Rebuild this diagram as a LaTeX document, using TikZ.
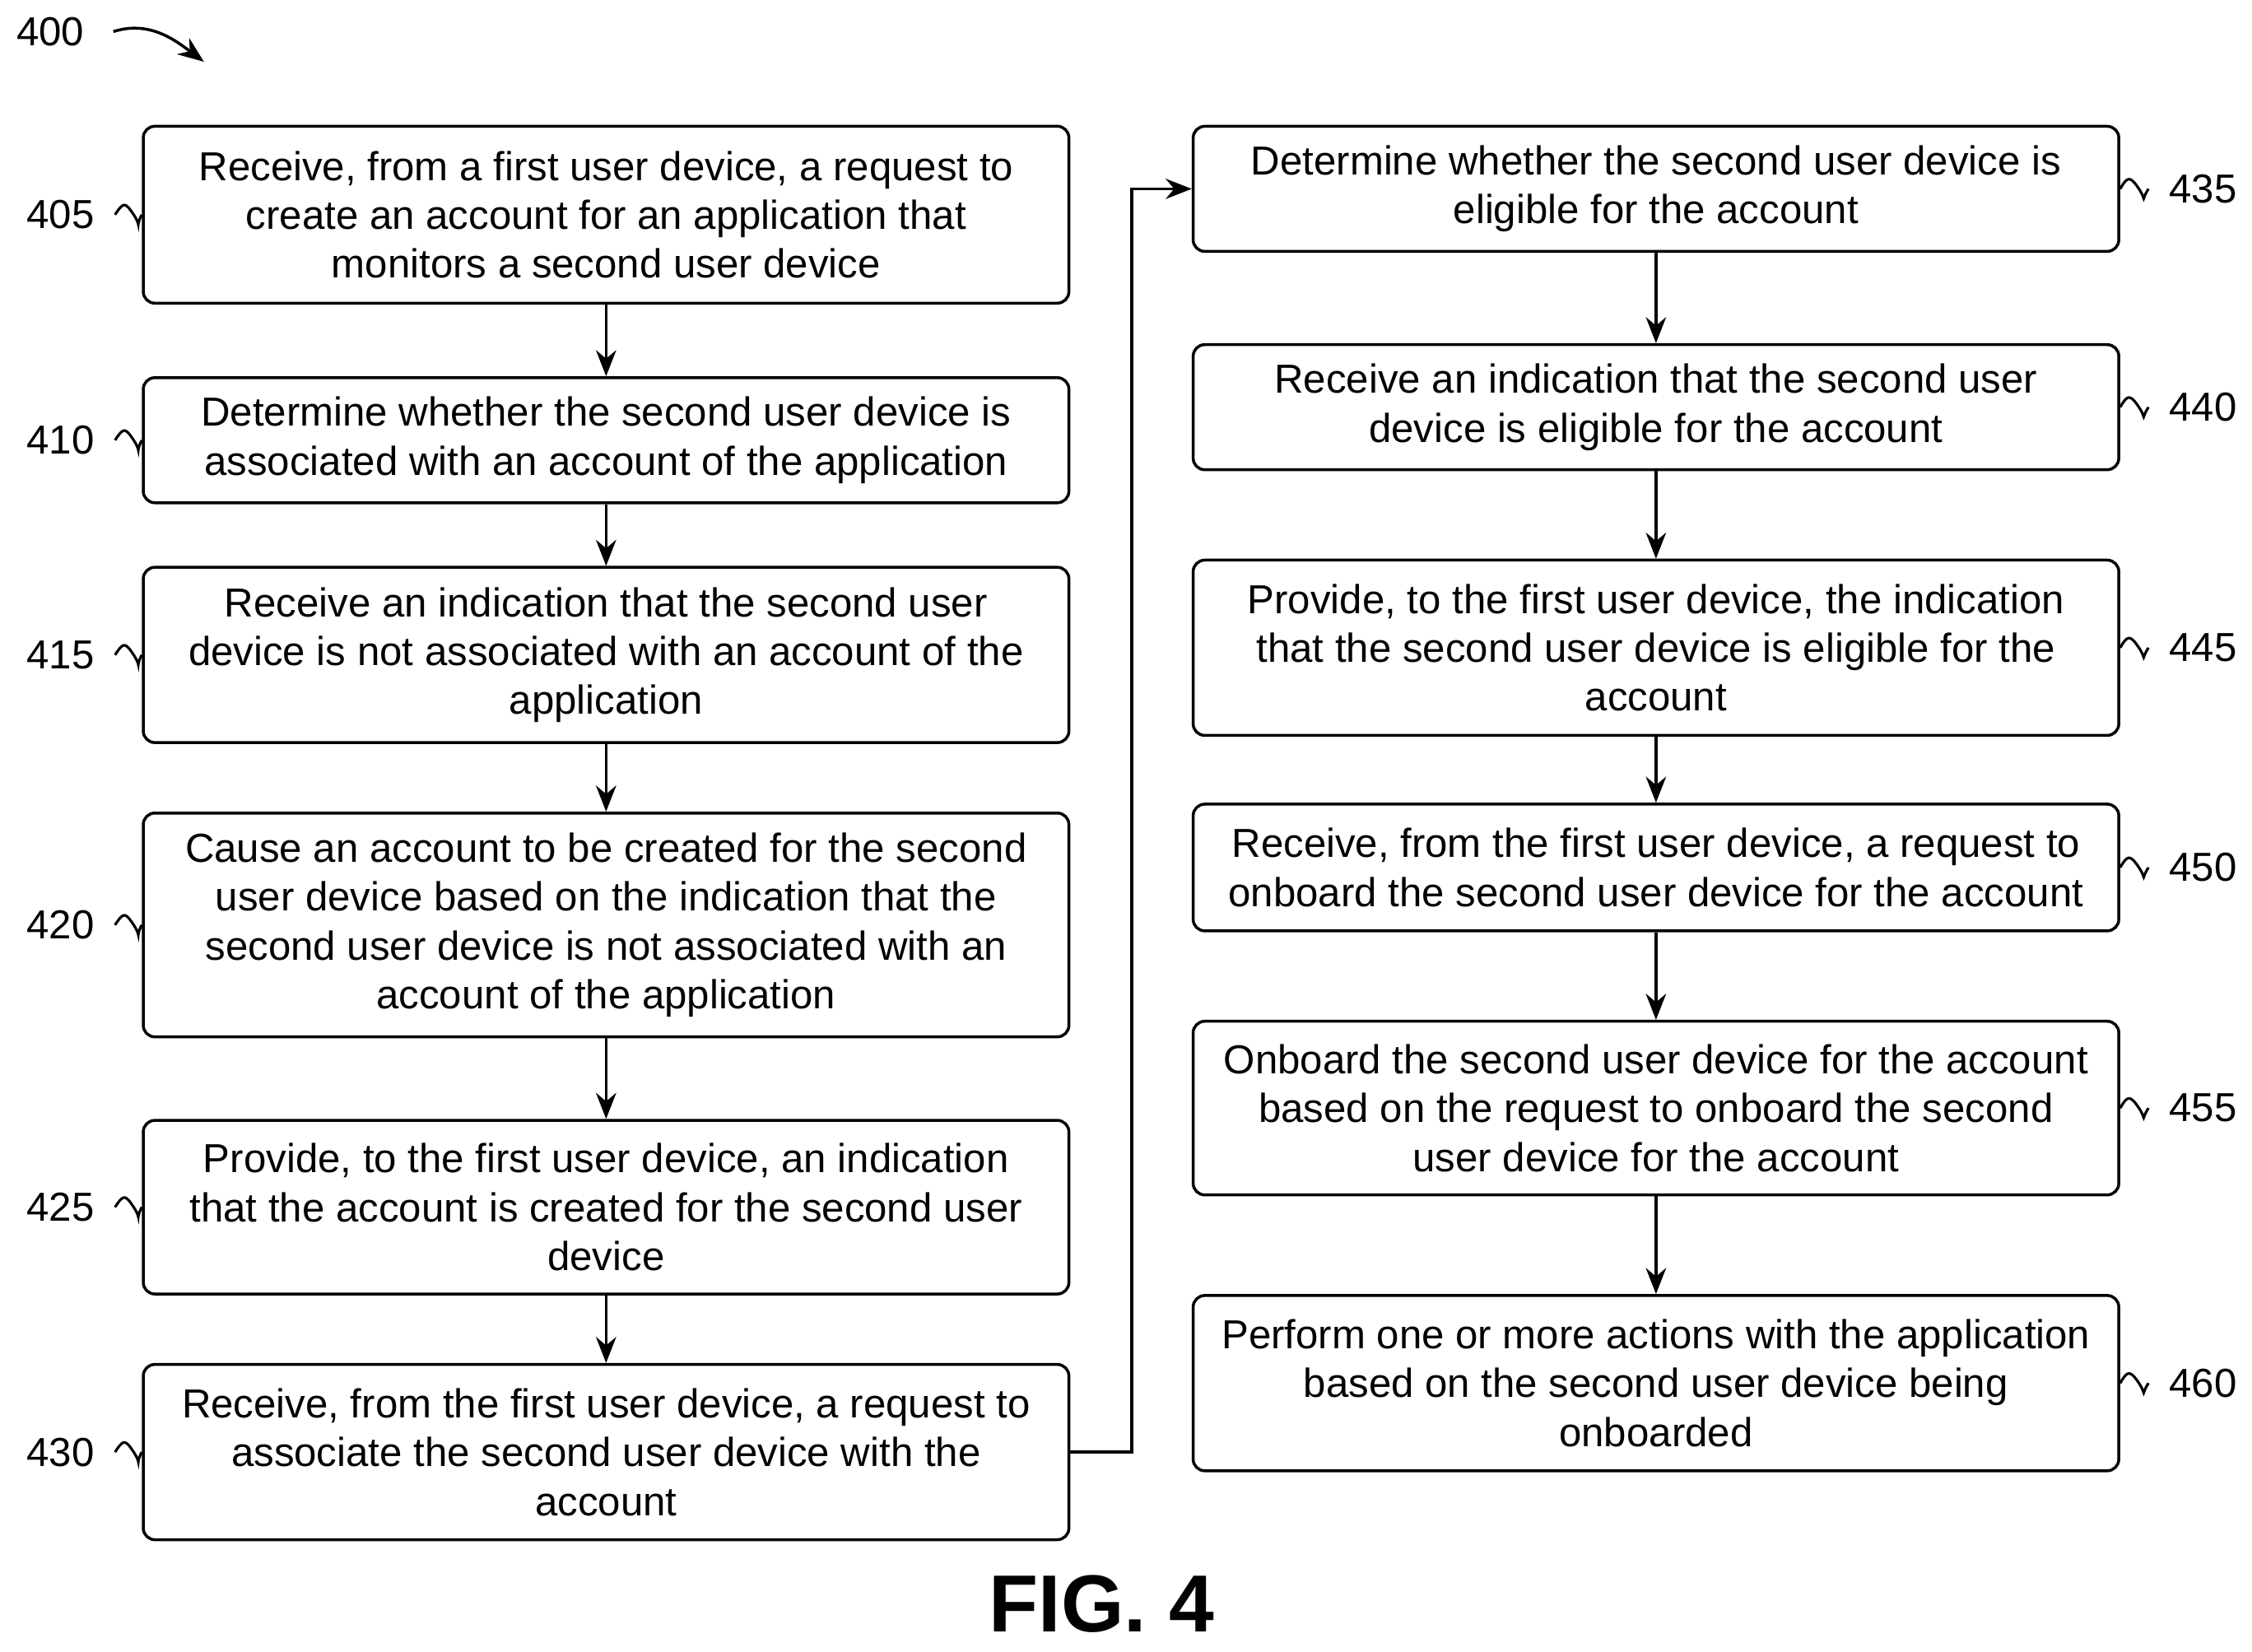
\documentclass[tikz,border=0pt]{standalone}
\usepackage{fontspec}
\setmainfont{Liberation Sans}
\usetikzlibrary{arrows.meta, positioning}

\begin{document}
\begin{tikzpicture}[
  x=0.01745cm, y=-0.01745cm,
  box/.style={draw, line width=1pt, rounded corners=4pt, align=center,
    minimum width=11.25cm, inner sep=2pt, font=\fontsize{14}{16.9}\selectfont},
  num/.style={font=\fontsize{14}{16.9}\selectfont, inner sep=1pt},
  flow/.style={-{Stealth[length=9pt,width=7pt]}, line width=1pt},
  wave/.style={line width=0.9pt},
]
\useasboundingbox (0,0) rectangle (1568,1150);

% left column
\node[box, minimum height=2.15cm] (b405) at (422,149.5) {Receive, from a first user device, a request to\\create an account for an application that\\monitors a second user device};
\node[box, minimum height=1.52cm] (b410) at (422,306.5) {Determine whether the second user device is\\associated with an account of the application};
\node[box, minimum height=2.13cm] (b415) at (422,456) {Receive an indication that the second user\\device is not associated with an account of the\\application};
\node[box, minimum height=2.72cm] (b420) at (422,644) {Cause an account to be created for the second\\user device based on the indication that the\\second user device is not associated with an\\account of the application};
\node[box, minimum height=2.11cm] (b425) at (422,840.5) {Provide, to the first user device, an indication\\that the account is created for the second user\\device};
\node[box, minimum height=2.13cm] (b430) at (422,1011) {Receive, from the first user device, a request to\\associate the second user device with the\\account};

% right column
\node[box, minimum height=1.52cm] (b435) at (1153,131.5) {Determine whether the second user device is\\eligible for the account};
\node[box, minimum height=1.52cm] (b440) at (1153,283.5) {Receive an indication that the second user\\device is eligible for the account};
\node[box, minimum height=2.13cm] (b445) at (1153,451) {Provide, to the first user device, the indication\\that the second user device is eligible for the\\account};
\node[box, minimum height=1.54cm] (b450) at (1153,604) {Receive, from the first user device, a request to\\onboard the second user device for the account};
\node[box, minimum height=2.11cm] (b455) at (1153,771.5) {Onboard the second user device for the account\\based on the request to onboard the second\\user device for the account};
\node[box, minimum height=2.13cm] (b460) at (1153,963) {Perform one or more actions with the application\\based on the second user device being\\onboarded};

% arrows
\foreach \a/\b in {405/410, 410/415, 415/420, 420/425, 425/430, 435/440, 440/445, 445/450, 450/455, 455/460}
  \draw[flow] (b\a) -- (b\b);
\coordinate (turn) at (788,1011);
\draw[flow] (b430.east) -- (turn) |- (b435.west);

% reference numbers, left
\foreach \n/\y in {405/149.5, 410/306.5, 415/456, 420/644, 425/840.5, 430/1011} {
  \node[num, anchor=east] (l\n) at (68,\y) {\n};
  \draw[wave] ([xshift=6]l\n.east) .. controls +(6,-9) and +(-6,-9) .. ++(13,0)
    .. controls +(6,9) and +(-5,9) .. (b\n.west);
}
% reference numbers, right
\foreach \n/\y in {435/131.5, 440/283.5, 445/451, 450/604, 455/771.5, 460/963} {
  \node[num, anchor=west] (l\n) at (1508,\y) {\n};
  \draw[wave] (b\n.east) .. controls +(5,-9) and +(-6,-9) .. ++(13,0)
    .. controls +(6,9) and +(-6,9) .. ([xshift=-6]l\n.west);
}

% figure number
\node[num] (n400) at (35,22) {400};
\coordinate (p400) at (142,43);
\draw[flow] (n400.east) ++(18,0) .. controls +(25,-8) and +(-20,-15) .. (p400);
\node[font=\bfseries\fontsize{28}{34}\selectfont] (fig) at (767,1117) {FIG. 4};
\end{tikzpicture}
\end{document}
